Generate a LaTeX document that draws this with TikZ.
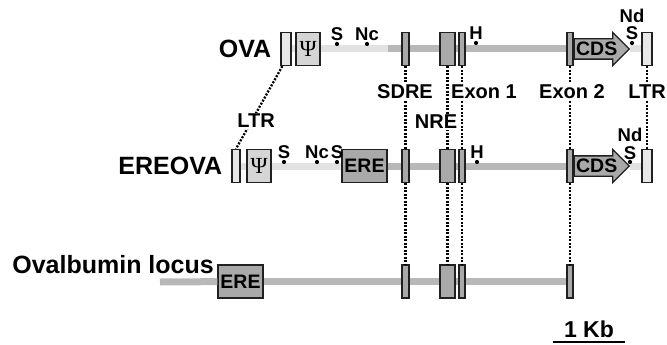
\documentclass[tikz,border=0pt]{standalone}
\usepackage{fontspec}
\setmainfont{Liberation Sans}
\newfontfamily\psifont{Liberation Serif}
\usetikzlibrary{positioning,shapes.arrows}

\definecolor{elemgray}{HTML}{A9A9A9}
\definecolor{ltrgray}{HTML}{E8E8E8}
\definecolor{linegray}{HTML}{B8B8B8}
\definecolor{vecgray}{HTML}{E2E2E2}
\definecolor{edgegray}{HTML}{202020}

\begin{document}
\begin{tikzpicture}[
    x=1pt, y=-1pt,
    every node/.style={font=\bfseries\fontsize{20}{22}\selectfont},
    elem/.style={rectangle,draw=edgegray,line width=1.3pt,fill=elemgray,minimum width=#1,minimum height=33pt,inner sep=0pt},
    ltr/.style={elem=#1,fill=ltrgray},
    ltr/.default=10pt,
    psibox/.style={ltr=24pt,fill=ltrgray!92!black,font=\psifont\fontsize{23}{24}\selectfont},
    erebox/.style={elem=45pt,font=\bfseries\fontsize{19.5}{20}\selectfont},
    cds/.style={single arrow,draw=edgegray,line width=1.3pt,fill=elemgray,minimum height=55pt,
        single arrow head extend=6.5pt,text height=13pt,text depth=0pt,inner ysep=3pt,inner xsep=0.5pt,
        font=\bfseries\fontsize{19.5}{20}\selectfont},
    site/.style={circle,fill=black,inner sep=0pt,minimum size=4.2pt},
    sitelab/.style={font=\bfseries\fontsize{18.5}{20}\selectfont,inner sep=0.5pt,text height=13.5pt,text depth=0pt},
    linklab/.style={fill=white,inner sep=1.5pt},
    rowlab/.style={font=\bfseries\fontsize{25}{27}\selectfont,inner sep=1pt},
    backbone/.style={line width=7pt,linegray},
    vector/.style={line width=7pt,vecgray},
    dotlink/.style={line width=2.3pt,dash pattern=on 2pt off 1.5pt}
]
\useasboundingbox (0,0) rectangle (667,345);

% OVA
\node[ltr] (ova-ltrl) at (286,49) {};
\node[psibox] (ova-psi) at (308,49) {Ψ};
\node[elem=7pt] (ova-sdre) at (405.5,49) {};
\node[elem=15pt] (ova-nre) at (447.5,49) {};
\node[elem=6pt] (ova-ex1) at (462,49) {};
\node[elem=6pt] (ova-ex2) at (570,49) {};
\node[cds,anchor=tail] (ova-cds) at (ova-ex2.east) {CDS};
\node[ltr] (ova-ltrr) at (647,49) {};
\coordinate (ova-split) at (388,49);
\node[rowlab,left=8pt of ova-ltrl] (ova-name) {OVA};

\draw[vector] (ova-ltrl) -- (ova-psi);
\draw[vector] (ova-psi) -- (ova-split);
\draw[vector] (ova-cds.tip) -- (ova-ltrr);
\foreach \a/\b in {split/sdre,sdre/nre,nre/ex1,ex1/ex2}
    \draw[backbone] (ova-\a) -- (ova-\b);

\node[site] (ova-s1) at (337,44) {};
\node[site] (ova-nc) at (367,44) {};
\node[site] (ova-h) at (476,43) {};
\node[site] (ova-s2) at (632,43) {};
\node[sitelab,above=0.5pt of ova-s1] (ova-s1-lab) {S};
\node[sitelab,above=0.5pt of ova-nc] (ova-nc-lab) {Nc};
\node[sitelab,above=0.5pt of ova-h] (ova-h-lab) {H};
\node[sitelab,above=0pt of ova-s2] (ova-s2-lab) {S};
\node[sitelab,above=2.5pt of ova-s2-lab] (ova-nd-lab) {Nd};

% EREOVA
\node[ltr=8pt] (ere-ltrl) at (236,166) {};
\node[psibox] (ere-psi) at (259,166) {Ψ};
\node[erebox] (ere-ere) at (364.5,166) {ERE};
\node[elem=7pt] (ere-sdre) at (405.5,166) {};
\node[elem=15pt] (ere-nre) at (447.5,166) {};
\node[elem=6pt] (ere-ex1) at (462,166) {};
\node[elem=6pt] (ere-ex2) at (570,166) {};
\node[cds,anchor=tail] (ere-cds) at (ere-ex2.east) {CDS};
\node[ltr] (ere-ltrr) at (647,166) {};
\node[rowlab,left=8pt of ere-ltrl] (ere-name) {EREOVA};

\draw[vector] (ere-ltrl) -- (ere-psi);
\draw[vector] (ere-psi) -- (ere-ere);
\draw[vector] (ere-cds.tip) -- (ere-ltrr);
\foreach \a/\b in {ere/sdre,sdre/nre,nre/ex1,ex1/ex2}
    \draw[backbone] (ere-\a) -- (ere-\b);

\node[site] (ere-s1) at (284,162) {};
\node[site] (ere-nc) at (317,162) {};
\node[site] (ere-s2) at (337,162) {};
\node[site] (ere-h) at (477,162) {};
\node[site] (ere-s3) at (630,162) {};
\node[sitelab,above=0.5pt of ere-s1] (ere-s1-lab) {S};
\node[sitelab,above=0.5pt of ere-nc] (ere-nc-lab) {Nc};
\node[sitelab,above=0.5pt of ere-s2] (ere-s2-lab) {S};
\node[sitelab,above=0.5pt of ere-h] (ere-h-lab) {H};
\node[sitelab,above=0pt of ere-s3] (ere-s3-lab) {S};
\node[sitelab,above=2.5pt of ere-s3-lab] (ere-nd-lab) {Nd};

% Ovalbumin locus
\coordinate (loc-start) at (160,282);
\node[erebox] (loc-ere) at (240.5,281.5) {ERE};
\node[elem=7pt] (loc-sdre) at (405.5,281.5) {};
\node[elem=15pt] (loc-nre) at (447.5,281.5) {};
\node[elem=6pt] (loc-ex1) at (462,281.5) {};
\node[elem=6pt] (loc-ex2) at (570,281.5) {};
\node[rowlab,font=\bfseries\fontsize{25}{27}\selectfont,anchor=base east] (loc-name) at (215,273) {Ovalbumin locus};
\foreach \a/\b in {start/ere,ere/sdre,sdre/nre,nre/ex1,ex1/ex2}
    \draw[backbone] (loc-\a) -- (loc-\b);

% links
\draw[dotlink] ([xshift=2pt]ova-ltrl.south west) -- (ere-ltrl.north);
\foreach \e in {sdre,nre,ex1,ex2,ltrr}
    \draw[dotlink] (ova-\e) -- (ere-\e);
\foreach \e in {sdre,nre,ex1,ex2}
    \draw[dotlink] (ere-\e) -- (loc-\e);

\node[linklab] (lab-ltrl) at (256,121) {LTR};
\node[linklab] (lab-sdre) at (405,92) {SDRE};
\node[linklab] (lab-nre) at (436,122) {NRE};
\node[linklab] (lab-ex1) at (484,92) {Exon 1};
\node[linklab] (lab-ex2) at (572,92) {Exon 2};
\node[linklab] (lab-ltrr) at (647,92) {LTR};

% scale
\node[font=\bfseries\fontsize{23}{24}\selectfont] (kb) at (589,329) {1 Kb};
\coordinate (bar-l) at (553,342);
\coordinate (bar-r) at (625,342);
\draw[line width=2.5pt] (bar-l) -- (bar-r);

\end{tikzpicture}
\end{document}
